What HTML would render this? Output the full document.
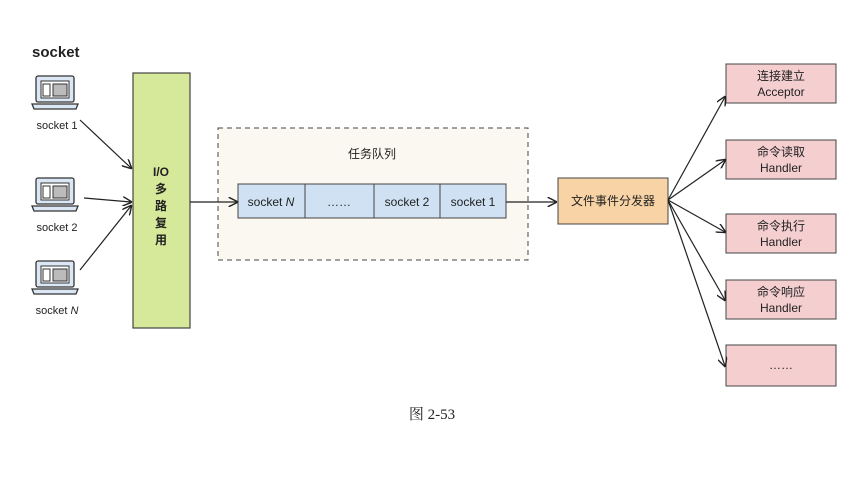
<!DOCTYPE html>
<html><head><meta charset="utf-8"><style>
body{margin:0;width:864px;height:484px;background:#fff;overflow:hidden;font-family:"Liberation Sans","Noto Sans CJK SC",sans-serif}
svg text{font-family:"Liberation Sans","Noto Sans CJK SC",sans-serif;fill:#222}
</style></head><body>
<svg width="864" height="484" viewBox="0 0 864 484" xmlns="http://www.w3.org/2000/svg">
<defs>
<marker id="a" markerWidth="8" markerHeight="8" refX="7" refY="4" orient="auto"><path d="M0,0 L8,4 L0,8" fill="none" stroke="#222" stroke-width="1.2"/></marker>
<g id="lap">
<rect x="4" y="0" width="38" height="26" rx="2" fill="#dbe7f5" stroke="#333" stroke-width="1.3"/>
<rect x="9" y="5" width="28" height="17" fill="#fff" stroke="#333"/>
<rect x="11" y="8" width="7" height="12" fill="none" stroke="#333"/>
<rect x="21" y="8" width="14" height="12" fill="#bbb" stroke="#333"/>
<path d="M0,28 L46,28 L44,33 L2,33 Z" fill="#dbe7f5" stroke="#333" stroke-width="1.3"/>
</g>
</defs>
<text x="32" y="57" font-size="15" font-weight="bold">socket</text>
<use href="#lap" x="32" y="76"/>
<use href="#lap" x="32" y="178"/>
<use href="#lap" x="32" y="261"/>
<text x="57" y="129" font-size="11" text-anchor="middle">socket 1</text>
<text x="57" y="231" font-size="11" text-anchor="middle">socket 2</text>
<text x="57" y="314" font-size="11" text-anchor="middle">socket <tspan font-style="italic">N</tspan></text>
<rect x="133" y="73" width="57" height="255" fill="#d6e89a" stroke="#444" stroke-width="1.2"/>
<text font-size="12" font-weight="bold" text-anchor="middle"><tspan x="161" y="176">I/O</tspan><tspan x="161" y="193">多</tspan><tspan x="161" y="210">路</tspan><tspan x="161" y="227">复</tspan><tspan x="161" y="244">用</tspan></text>
<rect x="218" y="128" width="310" height="132" fill="#faf8f0" stroke="#444" stroke-dasharray="5,4"/>
<text x="372" y="158" font-size="12" text-anchor="middle">任务队列</text>
<g fill="#cfe1f3" stroke="#444">
<rect x="238" y="184" width="67" height="34"/><rect x="305" y="184" width="69" height="34"/>
<rect x="374" y="184" width="66" height="34"/><rect x="440" y="184" width="66" height="34"/>
</g>
<g font-size="12" text-anchor="middle">
<text x="271" y="206">socket <tspan font-style="italic">N</tspan></text>
<text x="339" y="206">……</text>
<text x="407" y="206">socket 2</text>
<text x="473" y="206">socket 1</text>
</g>
<rect x="558" y="178" width="110" height="46" fill="#f8d3a5" stroke="#444"/>
<text x="613" y="205" font-size="12" text-anchor="middle">文件事件分发器</text>
<g fill="#f5cfd0" stroke="#444">
<rect x="726" y="64" width="110" height="39"/><rect x="726" y="140" width="110" height="39"/>
<rect x="726" y="214" width="110" height="39"/><rect x="726" y="280" width="110" height="39"/>
<rect x="726" y="345" width="110" height="41"/>
</g>
<g font-size="12" text-anchor="middle">
<text x="781" y="80">连接建立</text><text x="781" y="96">Acceptor</text>
<text x="781" y="156">命令读取</text><text x="781" y="172">Handler</text>
<text x="781" y="230">命令执行</text><text x="781" y="246">Handler</text>
<text x="781" y="296">命令响应</text><text x="781" y="312">Handler</text>
<text x="781" y="369">……</text>
</g>
<g stroke="#222" stroke-width="1.2" fill="none" marker-end="url(#a)">
<line x1="80" y1="120" x2="131" y2="168"/>
<line x1="84" y1="198" x2="131" y2="202"/>
<line x1="80" y1="270" x2="131" y2="206"/>
<line x1="190" y1="202" x2="237" y2="202"/>
<line x1="506" y1="202" x2="556" y2="202"/>
<line x1="668" y1="200" x2="725" y2="97"/>
<line x1="668" y1="200" x2="725" y2="160"/>
<line x1="668" y1="200" x2="725" y2="232"/>
<line x1="668" y1="200" x2="725" y2="300"/>
<line x1="668" y1="200" x2="725" y2="366"/>
</g>
<text x="432" y="419" font-size="15" text-anchor="middle" style="font-family:'Liberation Serif','Noto Serif CJK SC',serif">图 2-53</text>
</svg>
</body></html>
